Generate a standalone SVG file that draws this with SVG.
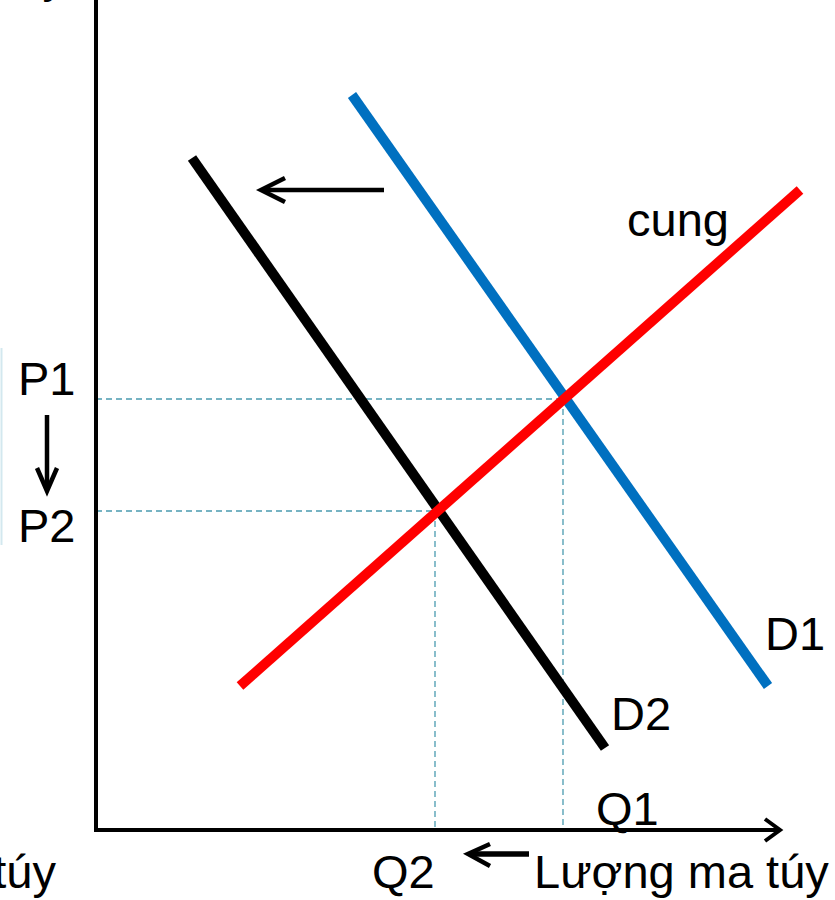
<svg xmlns="http://www.w3.org/2000/svg" width="835" height="900" viewBox="0 0 835 900">
<style>
text{font-family:"Liberation Sans",Arial,sans-serif;font-size:47px;fill:#000}
.dash{stroke:#4a9bb0;stroke-width:1.3;stroke-dasharray:6 4;fill:none}
.ax{stroke:#000;stroke-width:4;fill:none}
.arr{stroke:#000;stroke-width:4.5;fill:none}
.curve{stroke-width:10;fill:none}
</style>
<rect width="835" height="900" fill="#fff"/>
<g id="frame">
<line x1="1.5" y1="348" x2="1.5" y2="545" stroke="#d3e8ef" stroke-width="2"/>
<text x="66" y="-8" text-anchor="end">Giá ma túy</text>
</g>
<g id="connectors">
<line class="dash" x1="96" y1="399" x2="563" y2="399"/>
<line class="dash" x1="563" y1="399" x2="563" y2="830"/>
<line class="dash" x1="96" y1="511" x2="435" y2="511"/>
<line class="dash" x1="435" y1="511" x2="435" y2="830"/>
<polyline class="arr" points="285,178 261,190 285,202"/>
<line class="arr" x1="262" y1="190" x2="384" y2="190"/>
<polyline class="arr" points="490,844 468,854 490,866"/>
<line x1="470" y1="854" x2="529" y2="854" stroke="#000" stroke-width="5.5"/>
<line class="arr" x1="47" y1="415" x2="47" y2="490"/>
<polyline class="arr" points="37,468 47,491 57,468"/>
</g>
<g id="axes">
<line class="ax" x1="96" y1="0" x2="96" y2="832"/>
<line class="ax" x1="94" y1="830" x2="780" y2="830"/>
<polyline class="ax" points="765,819 780,830 765,841"/>
</g>
<g id="D1"><line class="curve" stroke="#0070c0" x1="352" y1="95" x2="768" y2="686"/></g>
<g id="D2"><line class="curve" stroke="#000" x1="192" y1="158" x2="605" y2="748"/></g>
<g id="cung"><line class="curve" stroke="#ff0000" x1="240" y1="686" x2="800" y2="190"/></g>
<g id="labels">
<text x="627" y="236">cung</text>
<text x="765" y="650">D1</text>
<text x="611" y="730">D2</text>
<text x="596" y="825">Q1</text>
<text x="372" y="888">Q2</text>
<text x="534" y="888">Lượng ma túy</text>
<text x="56" y="888" text-anchor="end">Giá ma túy</text>
<text x="18" y="395">P1</text>
<text x="18" y="542">P2</text>
</g>
</svg>
